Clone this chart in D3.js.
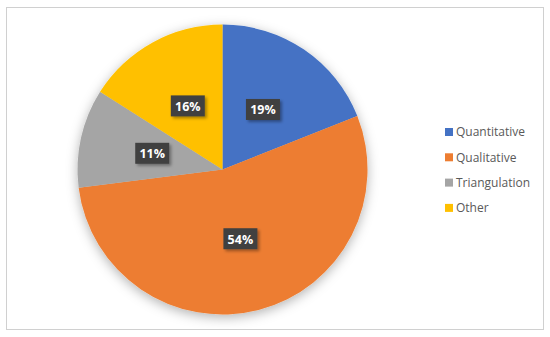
<!DOCTYPE html>
<html><head><meta charset="utf-8">
<script src="https://cdn.jsdelivr.net/npm/d3@7"></script>
<style>body{margin:0;background:#fff;}svg{display:block;}</style>
</head><body>
<svg id="c" width="550" height="337"></svg>
<script>
const categories = ["Quantitative", "Qualitative", "Triangulation", "Other"];
const values = [19, 54, 11, 16];
const colors = ["#4472C4", "#ED7D31", "#A5A5A5", "#FFC000"];

const svg = d3.select("#c");
const defs = svg.append("defs");
const f = defs.append("filter").attr("id","sh").attr("x","-20%").attr("y","-20%").attr("width","140%").attr("height","140%");
f.append("feDropShadow").attr("dx",0).attr("dy",3).attr("stdDeviation",6).attr("flood-color","#000").attr("flood-opacity",0.3);
const f2 = defs.append("filter").attr("id","lsh").attr("x","-30%").attr("y","-30%").attr("width","160%").attr("height","160%");
f2.append("feDropShadow").attr("dx",2).attr("dy",2).attr("stdDeviation",1.5).attr("flood-color","#000").attr("flood-opacity",0.35);

svg.append("rect").attr("x",6.5).attr("y",7.5).attr("width",537).attr("height",322)
  .attr("fill","#fff").attr("stroke","#d0d0d0").attr("stroke-width",1);

const cx = 222.5, cy = 169.5, R = 145;
const data = categories.map((c,i)=>({cat:c, v:values[i], col:colors[i]}));
const pie = d3.pie().value(d=>d.v).sort(null);
const arcs = pie(data);
const arc = d3.arc().innerRadius(0).outerRadius(R);
const labelArc = d3.arc().innerRadius(72).outerRadius(72);

const g = svg.append("g").attr("transform",`translate(${cx},${cy})`);
g.append("g").attr("filter","url(#sh)").selectAll("path").data(arcs).join("path")
  .attr("d",arc).attr("fill",d=>d.data.col);

const lg = g.selectAll("g.lbl").data(arcs).join("g").attr("class","lbl")
  .attr("transform",d=>`translate(${labelArc.centroid(d)})`);
lg.append("rect").attr("x",-17).attr("y",-11).attr("width",34).attr("height",21)
  .attr("fill","#404040").attr("filter","url(#lsh)");
lg.append("text").attr("text-anchor","middle").attr("dy","0.36em")
  .attr("fill","#fff").attr("font-family","'Open Sans', sans-serif").attr("font-weight","bold")
  .attr("font-size",12.5).text(d=>d.data.v+"%");

const leg = svg.append("g").attr("transform","translate(445,132)");
const li = leg.selectAll("g").data(data).join("g").attr("transform",(d,i)=>`translate(0,${i*25.3})`);
li.append("rect").attr("x",0).attr("y",-4).attr("width",8).attr("height",8).attr("fill",d=>d.col);
li.append("text").attr("x",11).attr("dy","0.36em").attr("fill","#595959")
  .attr("font-family","'Open Sans', sans-serif").attr("font-size",12).text(d=>d.cat);
</script>
</body></html>
